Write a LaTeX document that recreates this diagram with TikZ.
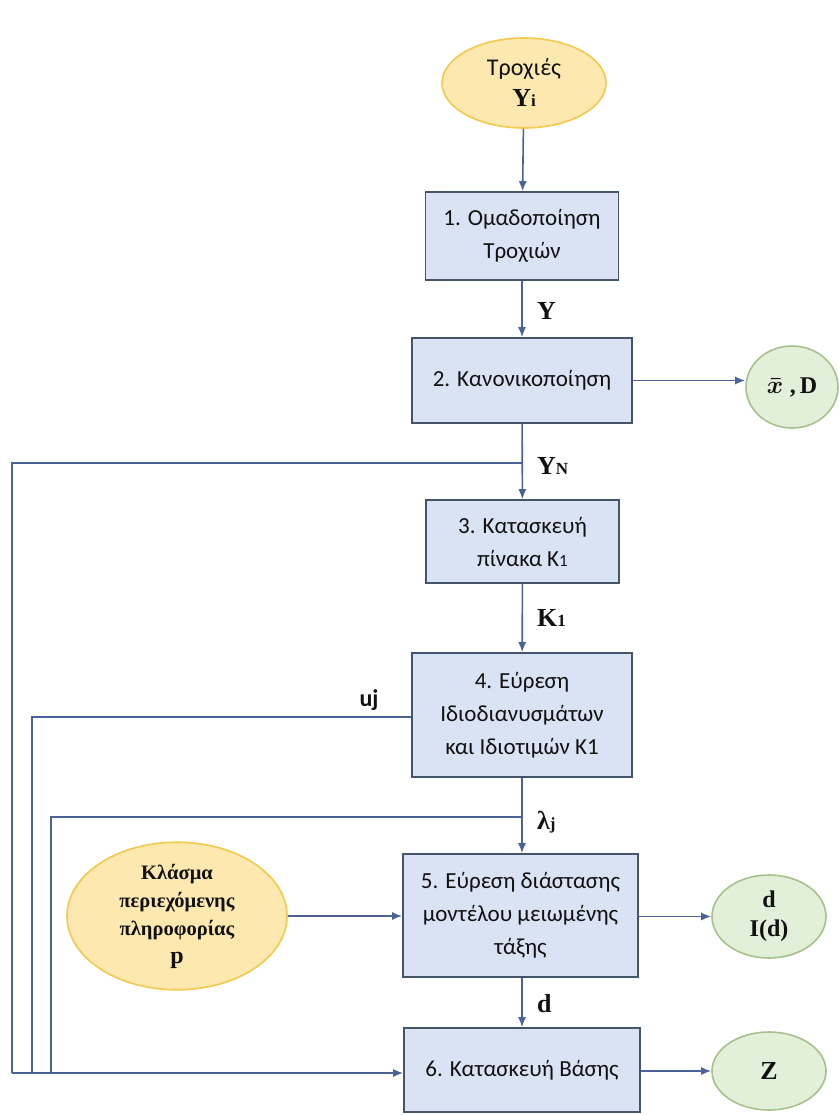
\documentclass[tikz,border=0pt]{standalone}
\usepackage{fontspec}
\setmainfont{Carlito}
\newfontfamily\labfont{Liberation Serif}
\usetikzlibrary{arrows.meta,shapes.geometric}
\definecolor{boxfill}{HTML}{DAE3F3}
\definecolor{boxdraw}{HTML}{44546A}
\definecolor{linecol}{HTML}{4A6394}
\definecolor{yelfill}{HTML}{FDE9B0}
\definecolor{yeldraw}{HTML}{F2C94C}
\definecolor{grnfill}{HTML}{E2EFD9}
\definecolor{grndraw}{HTML}{A8C08C}
\definecolor{txt}{HTML}{111111}
\newcommand{\smallsub}[1]{{\fontsize{17}{20}\selectfont #1}}
\newcommand{\lbf}[1]{{\labfont\bfseries\fontsize{26}{28}\selectfont #1}}
\newcommand{\lbs}[1]{{\labfont\bfseries\fontsize{24}{28}\selectfont #1}}
\newcommand{\pbf}[1]{{\labfont\bfseries\fontsize{20.5}{27}\selectfont #1}}
\tikzset{
  stepbox/.style={draw=boxdraw, line width=1.6pt, fill=boxfill, rectangle, align=center,
    inner sep=2pt, text=txt, font=\fontsize{23}{33}\selectfont},
  yelell/.style={draw=yeldraw, line width=1.6pt, fill=yelfill, ellipse, align=center,
    inner sep=0pt, text=txt, font=\fontsize{24}{31}\selectfont},
  grnell/.style={draw=grndraw, line width=1.6pt, fill=grnfill, ellipse, align=center,
    inner sep=0pt, text=txt, font=\fontsize{24}{29}\selectfont},
  conn/.style={draw=linecol, line width=1.6pt},
  arr/.style={conn, -{Latex[length=10pt,width=8pt]}},
  lab/.style={text=txt, inner sep=0pt},
}
\begin{document}
\begin{tikzpicture}[x=1pt,y=-1pt]
\useasboundingbox (0,0) rectangle (838,1115);
% nodes
\node[yelell, minimum width=164pt, minimum height=90pt] (e1) at (524,83)
  {Τροχιές\\\lbf{Υ\smallsub{i}}};
\node[stepbox, minimum width=193pt, minimum height=88pt] (b1) at (522,236) {1. Ομαδοποίηση\\Τροχιών};
\node[stepbox, minimum width=220pt, minimum height=85pt] (b2) at (522,380.5) {2. Κανονικοποίηση};
\node[grnell, minimum width=92pt, minimum height=82pt] (exd) at (792,387)
  {\lbs{\boldmath$\bar{x}$\;,\,D}};
\node[stepbox, minimum width=193pt, minimum height=83pt] (b3) at (522.5,541.5) {3. Κατασκευή\\πίνακα Κ\smallsub{1}};
\node[stepbox, minimum width=220pt, minimum height=124pt] (b4) at (522,715) {4. Εύρεση\\Ιδιοδιανυσμάτων\\και Ιδιοτιμών Κ1};
\node[stepbox, minimum width=235pt, minimum height=123pt] (b5) at (520.5,915.5) {5. Εύρεση διάστασης\\μοντέλου μειωμένης\\τάξης};
\node[yelell, minimum width=220pt, minimum height=142pt, font=\fontsize{20}{28}\selectfont] (ep) at (177,916)
  {\pbf{Κλάσμα}\\\pbf{περιεχόμενης}\\\pbf{πληροφορίας}\\\lbs{p}};
\node[grnell, minimum width=114pt, minimum height=83pt] (ed) at (769,916.5)
  {\lbs{d}\\\lbs{I(d)}};
\node[stepbox, minimum width=236pt, minimum height=84pt] (b6) at (522,1070) {6. Κατασκευή Βάσης};
\node[grnell, minimum width=114pt, minimum height=78pt] (ez) at (769,1071)
  {\lbf{Z}};
% labels
\node[lab, anchor=west] (lY) at (537,311) {\lbf{Υ}};
\node[lab, anchor=west] (lYN) at (537,466) {\lbf{Υ\smallsub{N}}};
\node[lab, anchor=west] (lK) at (537,618) {\lbf{Κ\smallsub{1}}};
\node[lab, anchor=west] (lL) at (537,822) {\lbf{λ\smallsub{j}}};
\node[lab, anchor=west] (ld) at (537,1004) {\lbf{d}};
\node[lab] (lu) at (369,700) {{\bfseries\fontsize{24}{28}\selectfont uj}};
% coordinates
\coordinate (jYN) at (522,463);
\coordinate (jL) at (522,817);
\coordinate (c1a) at (12,463);
\coordinate (c1b) at (12,1073);
\coordinate (c2a) at (32,717);
\coordinate (c2b) at (32,1073);
\coordinate (c3a) at (51,817);
\coordinate (c3b) at (51,1073);
% connectors
\draw[arr] (e1) -- (b1);
\draw[arr] (b1) -- (b2);
\draw[arr] (b2.east) -- (b2.east -| exd.west);
\draw[arr] (b2) -- (b3);
\draw[arr] (b3) -- (b4);
\draw[arr] (b4.south) -- (b5.north -| b4.south);
\draw[arr] (b5.south -| b4.south) -- (b6.north -| b4.south);
\draw[arr] (ep.east) -- (b5.west |- ep.east);
\draw[arr] (b5.east |- ed.west) -- (ed.west);
\draw[arr] (b6.east |- ez.west) -- (ez.west);
\draw[conn] (jYN) -- (c1a) -- (c1b);
\draw[conn] (b4.west |- c2a) -- (c2a) -- (c2b);
\draw[conn] (jL) -- (c3a) -- (c3b);
\draw[arr] (c1b) -- (b6.west |- c1b);
\end{tikzpicture}
\end{document}
